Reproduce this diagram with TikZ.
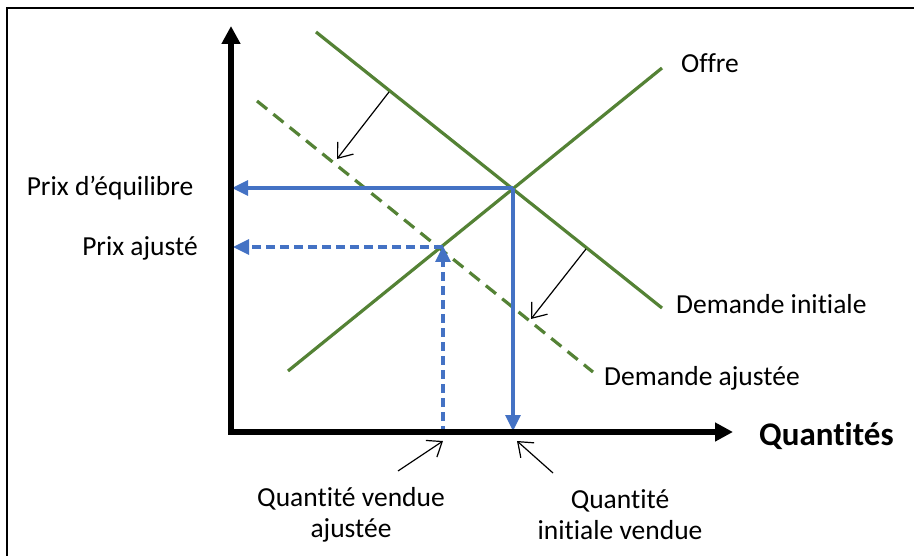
\documentclass[tikz,border=0pt]{standalone}
\usepackage{fontspec}
\setmainfont[Ligatures=NoCommon]{Carlito}
\usetikzlibrary{arrows.meta}
\definecolor{vert}{RGB}{84,130,53}
\definecolor{bleu}{RGB}{68,114,196}
\begin{document}
\begin{tikzpicture}[x=1pt,y=-1pt,
  axe/.style={line width=5.5pt,-{Triangle[length=18pt,width=18pt]}},
  courbe/.style={vert,line width=3.2pt},
  courbepoint/.style={vert,line width=3.2pt,dash pattern=on 13pt off 8pt},
  fleche/.style={bleu,line width=3.2pt,-{Triangle[length=16pt,width=15pt]}},
  flechepoint/.style={fleche,dash pattern=on 9pt off 5pt},
  mince/.style={black,line width=1.2pt,-{Straight Barb[length=13pt,width=20pt]}},
  lab/.style={font=\fontsize{27.5}{31}\selectfont,inner sep=0pt},
  every node/.style={inner sep=0pt}]
\useasboundingbox (0,0) rectangle (914,556);
\draw[line width=2pt] (7,556) -- (7,8) -- (914,8);
% coordinates
\coordinate (O) at (231,432);
\coordinate (Ytop) at (231,26);
\coordinate (Xend) at (733,432);
\coordinate (s1) at (288,371);
\coordinate (s2) at (662,68);
\coordinate (d1) at (316,32);
\coordinate (d2) at (662,308);
\coordinate (a1) at (257,101);
\coordinate (a2) at (593,372);
\coordinate (E) at (513,188);
\coordinate (A) at (443,247);
\coordinate (Ey) at (232,188);
\coordinate (Ex) at (513,432);
\coordinate (Ay) at (233,247);
\coordinate (Ax) at (443,432);
% curves
\draw[courbe] (s1) -- (s2);
\draw[courbe] (d1) -- (d2);
\draw[courbepoint] (a1) -- (a2);
% blue
\draw[fleche] (E) -- (Ey);
\draw[fleche,shorten >=1pt] (E) -- (Ex);
\draw[flechepoint] (A) -- (Ay);
\draw[flechepoint,dash phase=3pt] (Ax) -- ([yshift=1pt]A);
% axes
\draw[axe] (O) -- (Ytop);
\draw[axe] ([xshift=-2.75pt]O) -- (Xend);
% thin arrows
\coordinate (t1) at (389,92);
\coordinate (h1) at (337,159);
\coordinate (t2) at (586,249);
\coordinate (h2) at (531,319);
\draw[mince] (t1) -- (h1);
\draw[mince] (t2) -- (h2);
\coordinate (t3) at (398,471);
\coordinate (h3) at (443,441);
\coordinate (t4) at (553,473);
\coordinate (h4) at (517,441);
\draw[mince] (t3) -- (h3);
\draw[mince] (t4) -- (h4);
% labels
\node[lab] (offre) at (710,63) {Offre};
\node[lab] (pe) at (110,188) {Prix d’équilibre};
\node[lab] (pa) at (140,248) {Prix ajusté};
\node[lab,anchor=west] (di) at (676,304) {Demande initiale};
\node[lab,anchor=west] (da) at (604,378) {Demande ajustée};
\node[font=\fontsize{33}{36}\selectfont\bfseries,anchor=west] (q) at (759,436) {Quantités};
\node[lab,align=center] (qva) at (351,515) {Quantité vendue\\[0pt]ajustée};
\node[lab,align=center] (qiv) at (620,515) {Quantité\\[0pt]initiale vendue};
\end{tikzpicture}
\end{document}
